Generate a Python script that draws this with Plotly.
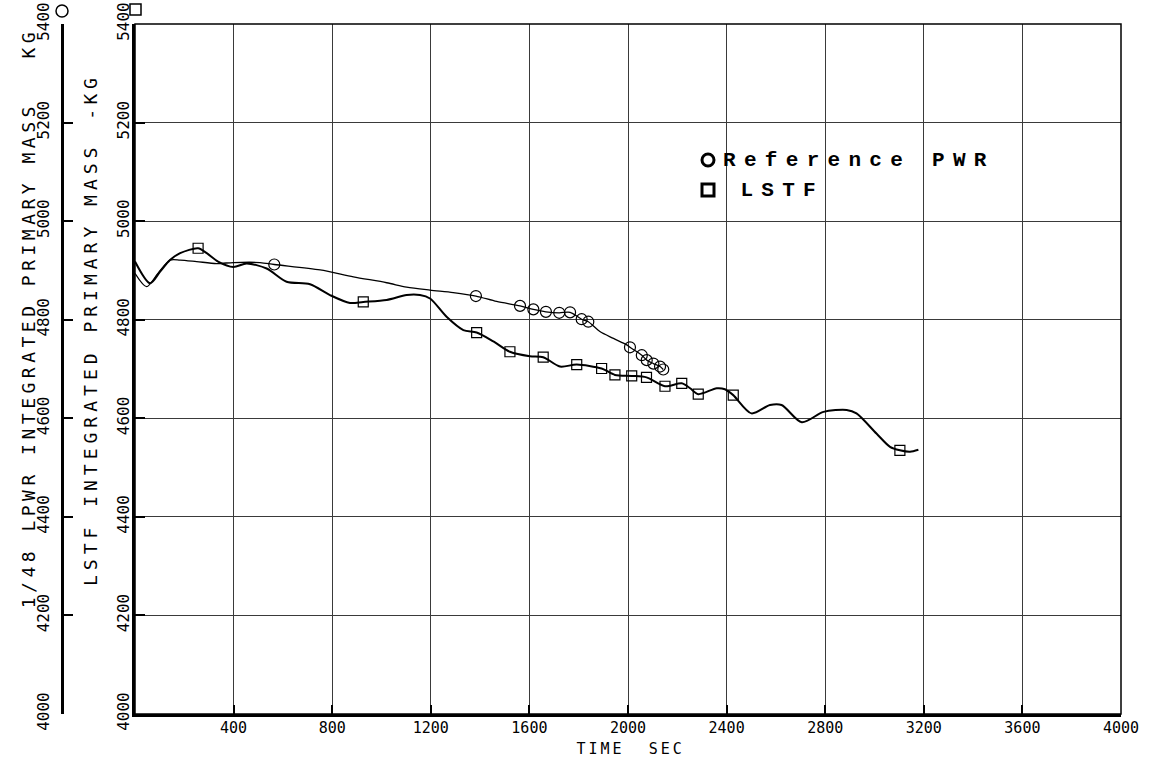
import plotly.graph_objects as go

# Primary-system integrated mass histories (time in s, mass in kg)
ref_time = [0, 47, 93, 142, 183, 250, 331, 399, 507, 565, 751, 886, 1021, 1102,
            1197, 1291, 1383, 1467, 1562, 1616, 1667, 1721, 1765, 1812, 1839,
            1886, 1941, 1995, 2008, 2056, 2076, 2103, 2130, 2143]
ref_mass = [4894, 4867, 4894, 4921, 4921, 4918, 4914, 4916, 4916, 4912, 4901,
            4887, 4875, 4866, 4860, 4855, 4848, 4837, 4828, 4821, 4816, 4814,
            4815, 4801, 4796, 4776, 4762, 4749, 4744, 4728, 4718, 4711, 4705, 4699]
ref_marker_time = [565, 1383, 1562, 1616, 1667, 1721, 1765, 1812, 1839, 2008,
                   2056, 2076, 2103, 2130, 2143]

lstf_time = [0, 61, 101, 142, 183, 256, 291, 337, 399, 453, 534, 615, 710, 791,
             872, 926, 1021, 1102, 1156, 1197, 1264, 1332, 1386, 1454, 1521,
             1602, 1656, 1724, 1792, 1893, 1947, 2015, 2075, 2150, 2218, 2252,
             2285, 2360, 2393, 2427, 2501, 2576, 2623, 2705, 2793, 2887, 2927,
             3008, 3063, 3103, 3144, 3178]
lstf_mass = [4918, 4874, 4897, 4921, 4935, 4945, 4935, 4918, 4907, 4914, 4904,
             4877, 4872, 4850, 4834, 4836, 4840, 4850, 4850, 4843, 4806, 4779,
             4774, 4756, 4735, 4726, 4724, 4705, 4709, 4701, 4688, 4686, 4683,
             4665, 4671, 4661, 4649, 4661, 4659, 4647, 4610, 4627, 4627, 4592,
             4613, 4617, 4610, 4569, 4542, 4535, 4532, 4536]
lstf_marker_time = [256, 926, 1386, 1521, 1656, 1792, 1893, 1947, 2015, 2075,
                    2150, 2218, 2285, 2427, 3103]

x_ticks = [400, 800, 1200, 1600, 2000, 2400, 2800, 3200, 3600, 4000]
y_ticks = [4000, 4200, 4400, 4600, 4800, 5000, 5200, 5400]

W, H = 1155, 762
X0, X1 = 135, 1121      # plot frame, pixels
Y0, Y1 = 24, 714

def px(x):
    return x / W

def py(y):
    return 1 - y / H

ref_lookup = dict(zip(ref_time, ref_mass))
lstf_lookup = dict(zip(lstf_time, lstf_mass))

fig = go.Figure()

# Reference PWR (1/48 scaled) on the outer mass scale
fig.add_trace(go.Scatter(
    x=ref_time, y=ref_mass, mode="lines", showlegend=False, yaxis="y2",
    line=dict(color="black", width=1.3, shape="spline", smoothing=0.8)))
fig.add_trace(go.Scatter(
    x=ref_marker_time, y=[ref_lookup[t] for t in ref_marker_time],
    mode="markers", showlegend=False, yaxis="y2",
    marker=dict(symbol="circle-open", size=11, color="black",
                line=dict(width=1.2, color="black"))))

# LSTF on the inner mass scale
fig.add_trace(go.Scatter(
    x=lstf_time, y=lstf_mass, mode="lines", showlegend=False,
    line=dict(color="black", width=2, shape="spline", smoothing=0.8)))
fig.add_trace(go.Scatter(
    x=lstf_marker_time, y=[lstf_lookup[t] for t in lstf_marker_time],
    mode="markers", showlegend=False,
    marker=dict(symbol="square-open", size=10, color="black",
                line=dict(width=1.2, color="black"))))

tick_font = dict(family="Liberation Sans Narrow, DejaVu Sans Mono, sans-serif",
                 size=16, color="black")
xtick_font = dict(tick_font, size=15)
title_font = dict(family="DejaVu Sans Mono, monospace", size=18, color="black")
legend_font = dict(family="Liberation Mono, Courier New, monospace",
                   size=21, color="black", weight="bold")

fig.update_layout(
    width=W, height=H,
    margin=dict(l=0, r=0, t=0, b=0, autoexpand=False),
    paper_bgcolor="white", plot_bgcolor="white",
    showlegend=False,
    xaxis=dict(domain=[px(X0), px(X1)], range=[0, 4000], automargin=False,
               tickvals=x_ticks, ticktext=[str(v) for v in x_ticks],
               ticks="inside", ticklen=9, tickwidth=2, tickcolor="black",
               showgrid=True, gridcolor="#3a3a3a", gridwidth=1,
               showline=True, linecolor="black", linewidth=3,
               zeroline=False, tickfont=xtick_font, ticklabelstandoff=-2),
    yaxis=dict(domain=[py(Y1), py(Y0)], range=[4000, 5400], automargin=False,
               tickvals=y_ticks, ticktext=[str(v) for v in y_ticks],
               tickangle=-90, ticks="inside", ticklen=10, tickwidth=2,
               tickcolor="black",
               showgrid=True, gridcolor="#3a3a3a", gridwidth=1,
               showline=True, linecolor="black", linewidth=3,
               zeroline=False, tickfont=tick_font, ticklabelstandoff=-3),
    yaxis2=dict(overlaying="y", anchor="free", position=px(62), side="left",
                range=[4000, 5400], automargin=False, tickvals=y_ticks,
                ticktext=[str(v) for v in y_ticks], tickangle=-90,
                ticks="inside", ticklen=9, tickwidth=2, tickcolor="black",
                showgrid=False, showline=True, linecolor="black",
                linewidth=3, zeroline=False, tickfont=tick_font,
                ticklabelstandoff=6),
)

# thin top/right frame
fig.add_shape(type="rect", xref="x domain", yref="y domain",
              x0=0, x1=1, y0=0, y1=1, line=dict(color="black", width=1.5),
              layer="above")

# scale identification symbols at the top of each mass axis
fig.add_shape(type="circle", xref="paper", yref="paper",
              x0=px(56), x1=px(68), y0=py(17), y1=py(5),
              line=dict(color="black", width=1.5))
fig.add_shape(type="rect", xref="paper", yref="paper",
              x0=px(130), x1=px(141), y0=py(15), y1=py(4),
              line=dict(color="black", width=1.5))

# legend symbols
fig.add_shape(type="circle", xref="paper", yref="paper",
              x0=px(702), x1=px(714), y0=py(166), y1=py(154),
              line=dict(color="black", width=3))
fig.add_shape(type="rect", xref="paper", yref="paper",
              x0=px(702), x1=px(714), y0=py(196), y1=py(184),
              line=dict(color="black", width=3))

def label(text, x, y, angle=0, font=title_font):
    fig.add_annotation(text=text, xref="paper", yref="paper",
                       x=px(x), y=py(y), showarrow=False, textangle=angle,
                       xanchor="center", yanchor="middle", font=font)

label("1/48 LPWR INTEGRATED PRIMARY MASS", 28, 355, -90)
label("KG", 28, 43, -90)
label("LSTF INTEGRATED PRIMARY MASS", 90, 365, -90)
label("-KG", 90, 97, -90)
label("TIME  SEC", 630, 749, 0,
      dict(family="Liberation Sans Narrow, DejaVu Sans Mono, sans-serif",
           size=15, color="black"))
label("Reference PWR", 859, 160, 0, legend_font)
label("LSTF", 782, 190, 0, legend_font)

# plotter-style wide character spacing for the titles and legend
spacing_js = """
var spacing = {
  "1/48 LPWR INTEGRATED PRIMARY MASS": 4.5,
  "KG": 4.5,
  "LSTF INTEGRATED PRIMARY MASS": 5,
  "-KG": 4.5,
  "TIME  SEC": 3,
  "Reference PWR": 8.3,
  "LSTF": 8.3
};
document.querySelectorAll('.js-plotly-plot text').forEach(function (t) {
  var k = t.textContent;
  if (Object.prototype.hasOwnProperty.call(spacing, k)) {
    t.style.letterSpacing = spacing[k] + 'px';
  }
});
"""

fig.write_html("out.html", post_script=spacing_js)
